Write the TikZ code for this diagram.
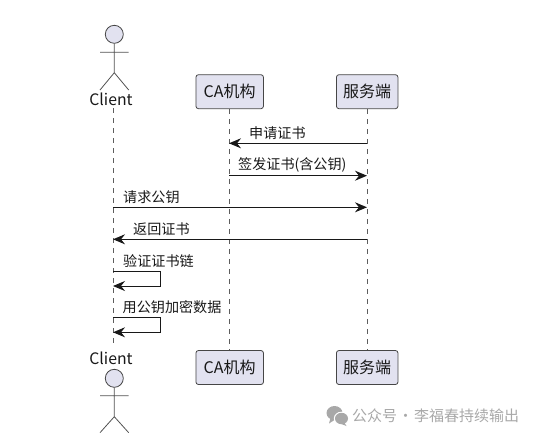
\documentclass[tikz,border=0pt]{standalone}
\usepackage{xcolor}
\usepackage{fontspec}
\setmainfont{Noto Sans CJK SC}
\usetikzlibrary{arrows.meta, calc}
\definecolor{boxfill}{HTML}{E2E2F0}
\definecolor{boxline}{HTML}{181818}
\definecolor{markgray}{HTML}{A8A8A8}
\tikzset{
  partbox/.style={draw=boxline!80, line width=0.8pt, rounded corners=2.5pt, fill=boxfill, inner sep=0pt, minimum width=#1, minimum height=34pt, font=\fontsize{16}{18}\selectfont, text=boxline},
  lifeline/.style={draw=boxline!70, line width=0.7pt, dash pattern=on 5pt off 5pt},
  msg/.style={draw=boxline, line width=1pt, -{Stealth[length=12pt, width=10pt, inset=4pt]}},
  msglabel/.style={anchor=west, inner sep=0pt, font=\fontsize{14.1}{16}\selectfont, text=boxline},
  actorname/.style={inner sep=0pt, font=\fontsize{15.8}{18}\selectfont, text=boxline},
  stick/.style={draw=boxline!75, line width=0.8pt},
  actorhead/.style={draw=boxline!80, line width=0.8pt, fill=boxfill},
  marktext/.style={anchor=west, inner sep=0pt, font=\fontsize{15}{17}\selectfont, text=markgray}
}
\begin{document}
\begin{tikzpicture}[x=1pt, y=-1pt]
  \useasboundingbox (0,0) rectangle (536,437);
  % participants
  \node[partbox=67.5pt] (catop) at (229.7,91.7) {CA机构};
  \node[partbox=61.5pt] (srvtop) at (367.2,91.7) {服务端};
  \node[partbox=67.5pt] (cabot) at (229.7,367.5) {CA机构};
  \node[partbox=61.5pt] (srvbot) at (367.2,367.5) {服务端};
  \node[actorname] (cltop) at (111,99.5) {Client};
  \node[actorname] (clbot) at (111,358.5) {Client};
  % actors
  \draw[stick] (114.3,43.3) -- (114.3,72.7) (100,52.3) -- (128.7,52.3) (100,90) -- (114.3,72.7) -- (128.7,90);
  \draw[actorhead] (114.3,34.3) circle (9);
  \draw[stick] (114.3,387.3) -- (114.3,416.7) (100,395.7) -- (128.7,395.7) (100,432.7) -- (114.3,416.7) -- (128.7,432.7);
  \draw[actorhead] (114.3,378.3) circle (9);
  % lifelines
  \coordinate (clup) at (113,108);
  \coordinate (cldown) at (113,346);
  \draw[lifeline] (clup) -- (cldown);
  \draw[lifeline] (catop.south) -- (cabot.north);
  \draw[lifeline] (srvtop.south) -- (srvbot.north);
  % message rows
  \foreach \n/\y in {a/143.3, b/175.7, c/207.3, d/239.3, e/271.7, f/286, g/317.7, h/332.3} {
    \coordinate (cl\n) at (113,\y);
    \coordinate (ca\n) at (229,\y);
    \coordinate (srv\n) at (367,\y);
  }
  \draw[msg] (srva) -- (caa);
  \node[msglabel] (apply) at (249,132.7) {申请证书};
  \draw[msg] (cab) -- (srvb);
  \node[msglabel] (issue) at (238,165) {签发证书(含公钥)};
  \draw[msg] (clc) -- (srvc);
  \node[msglabel] (request) at (123,196.7) {请求公钥};
  \draw[msg] (srvd) -- (cld);
  \node[msglabel] (reply) at (133,229) {返回证书};
  \draw[msg] (cle) -- ++(47.3,0) |- (clf);
  \node[msglabel] (verify) at (123,261) {验证证书链};
  \draw[msg] (clg) -- ++(47.3,0) |- (clh);
  \node[msglabel] (encrypt) at (122.5,307) {用公钥加密数据};
  % watermark
  \fill[markgray] (334.5,413) ellipse (8 and 7);
  \fill[markgray] (330.5,418) -- (329,423.5) -- (336,419) -- cycle;
  \fill[white] (341.5,418.5) ellipse (7.7 and 6.8);
  \fill[markgray] (341.5,418.5) ellipse (6.5 and 5.7);
  \fill[markgray] (344,422) -- (346.5,426) -- (340,423.5) -- cycle;
  \node[marktext] (mark) at (352,416) {公众号\hspace{1pt}·\hspace{1pt}李福春持续输出};
\end{tikzpicture}
\end{document}
